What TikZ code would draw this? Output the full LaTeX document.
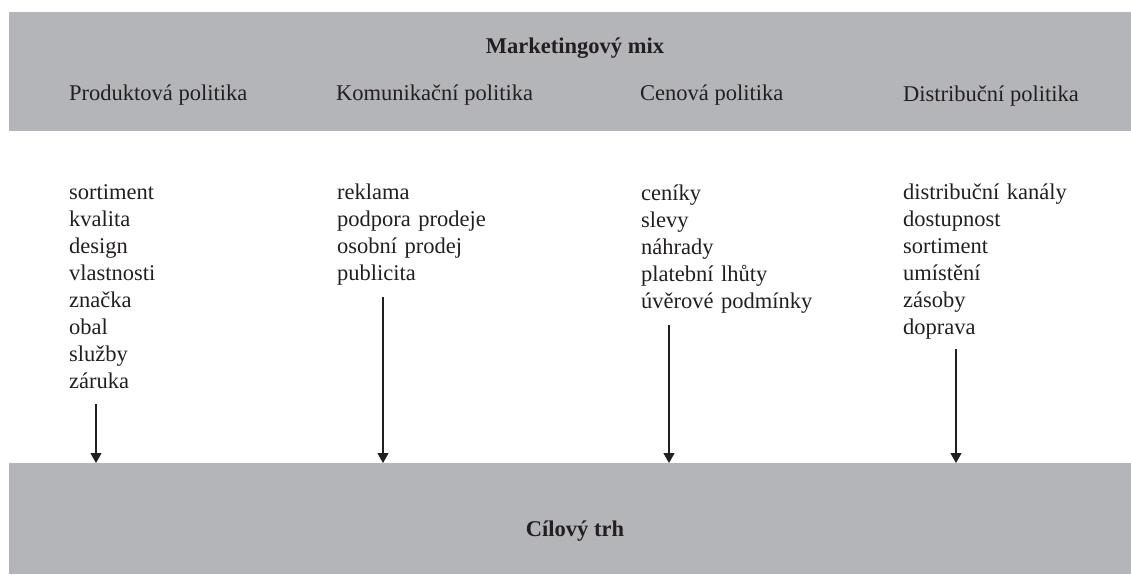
\documentclass[tikz,border=0pt]{standalone}
\usepackage{fontspec}
\setmainfont{Liberation Serif}
\usetikzlibrary{arrows.meta}
\definecolor{bandgray}{RGB}{180,181,185}
\definecolor{ink}{RGB}{35,31,32}
\begin{document}
\begin{tikzpicture}[x=1pt,y=-1pt,
  every node/.style={text=ink,font=\fontsize{22.5}{27}\selectfont,inner sep=0pt},
  band/.style={fill=bandgray,draw=none,anchor=north west,minimum width=1122pt},
  head/.style={anchor=base west},
  title/.style={anchor=base,font=\fontsize{22.5}{27}\selectfont\bfseries},
  itemlist/.style={anchor=base west,text width=300pt,align=left},
  arr/.style={draw=ink,line width=1.2pt,-{Triangle[width=11pt,length=10pt]}}]
\useasboundingbox (0,0) rectangle (1131,574);
\fill[white] (0,0) rectangle (1131,574);
\node[band,minimum height=119pt] (mixband) at (9,12) {};
\node[band,minimum height=111pt] (trh) at (9,463) {};
\node[title] (mix) at (575,53) {Marketingový mix};
\node[title] (cil) at (575,536) {Cílový trh};
\node[head] (h1) at (69,100) {Produktová politika};
\node[head] (h2) at (336,100) {Komunikační politika};
\node[head] (h3) at (640,100) {Cenová politika};
\node[head] (h4) at (903,101) {Distribuční politika};
\node[itemlist] (l1) at (69,199.5) {sortiment\\kvalita\\design\\vlastnosti\\značka\\obal\\služby\\záruka};
\node[itemlist] (l2) at (337,199.5) {reklama\\podpora prodeje\\osobní prodej\\publicita};
\node[itemlist] (l3) at (641,200.5) {ceníky\\slevy\\náhrady\\platební lhůty\\úvěrové podmínky};
\node[itemlist] (l4) at (903,199.5) {distribuční kanály\\dostupnost\\sortiment\\umístění\\zásoby\\doprava};
\coordinate (a1) at (96,404);
\coordinate (a2) at (383,297);
\coordinate (a3) at (669,325);
\coordinate (a4) at (956,349);
\draw[arr] (a1) -- (a1 |- trh.north);
\draw[arr] (a2) -- (a2 |- trh.north);
\draw[arr] (a3) -- (a3 |- trh.north);
\draw[arr] (a4) -- (a4 |- trh.north);
\end{tikzpicture}
\end{document}
